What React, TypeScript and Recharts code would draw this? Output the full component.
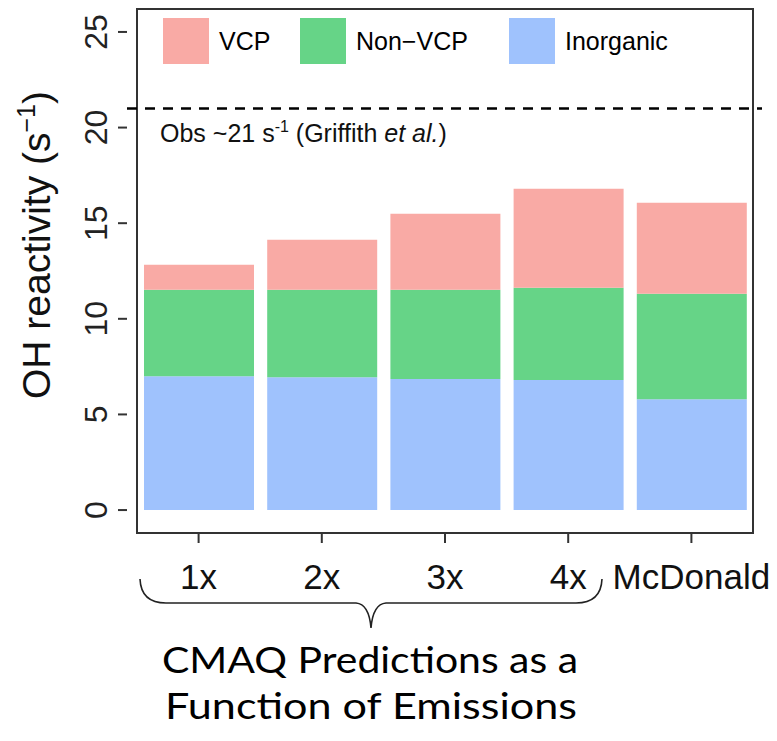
import React from 'react';
import {
  BarChart,
  Bar,
  XAxis,
  YAxis,
  ReferenceLine,
  ReferenceArea,
  Legend,
} from 'recharts';

// OH reactivity split by source, per emission scenario
const categories = ['1x', '2x', '3x', '4x', 'McDonald'];
const inorganic = [7.0, 6.95, 6.85, 6.8, 5.8];
const nonVcp = [4.52, 4.57, 4.67, 4.82, 5.51];
const vcp = [1.31, 2.62, 3.98, 5.18, 4.76];

const yTicks = [0, 5, 10, 15, 20, 25];
const observed = 21;

const seriesNames = ['VCP', 'Non\u2212VCP', 'Inorganic'];
const seriesColors = ['#F9AAA5', '#66D487', '#9FC2FD'];

const data = categories.map((name, i) => ({
  name,
  inorganic: inorganic[i],
  nonVcp: nonVcp[i],
  vcp: vcp[i],
}));

const W = 777;
const H = 741;
const AXIS = '#333333';
const SANS = "'Liberation Sans', Arial, sans-serif";

const legendLeft = [163, 300, 509];

function LegendBox() {
  return (
    <div style={{ position: 'relative', width: 560, height: 46 }}>
      {seriesNames.map((n, i) => (
        <div
          key={n}
          style={{
            position: 'absolute',
            left: legendLeft[i] - legendLeft[0],
            top: 0,
            display: 'flex',
            alignItems: 'center',
            height: 46,
          }}
        >
          <div style={{ width: 46, height: 46, background: seriesColors[i] }} />
          <span
            style={{
              marginLeft: 10,
              fontFamily: SANS,
              fontSize: 25,
              color: '#000',
              whiteSpace: 'nowrap',
            }}
          >
            {n}
          </span>
        </div>
      ))}
    </div>
  );
}

function YTick({ y, payload }: any) {
  return (
    <text
      transform={`translate(95, ${y}) rotate(-90)`}
      y={11.5}
      textAnchor="middle"
      fontFamily={SANS}
      fontSize={32}
      fill="#222"
    >
      {payload.value}
    </text>
  );
}

function XTick({ x, y, payload }: any) {
  return (
    <text
      x={x}
      y={y + 44}
      textAnchor="middle"
      fontFamily={SANS}
      fontSize={35}
      fill="#111"
    >
      {payload.value}
    </text>
  );
}

function ObsLabel({ viewBox }: any) {
  const x = viewBox.x + 33;
  const y = viewBox.y + 34;
  return (
    <text x={x} y={y} fontFamily={SANS} fontSize={25} fill="#111">
      <tspan>Obs ~21 s</tspan>
      <tspan fontSize={16} dy={-10}>-1</tspan>
      <tspan dy={10}> (Griffith </tspan>
      <tspan fontStyle="italic">et al.</tspan>
      <tspan>)</tspan>
    </text>
  );
}

export default function App() {
  return (
    <div style={{ position: 'absolute', left: 0, top: 0, width: W, height: H, background: '#fff' }}>
      <BarChart
        width={W}
        height={H}
        data={data}
        margin={{ top: 9, right: 15, bottom: 148, left: 0 }}
      >
        <XAxis
          dataKey="name"
          padding={{ left: 10, right: 9 }}
          height={60}
          axisLine={false}
          tickSize={10}
          tickLine={{ stroke: AXIS, strokeWidth: 2 }}
          tick={<XTick />}
          interval={0}
        />
        <YAxis
          type="number"
          domain={[-1.2, 26.2]}
          ticks={yTicks}
          allowDataOverflow
          width={127}
          axisLine={false}
          tickSize={9}
          tickLine={{ stroke: AXIS, strokeWidth: 2 }}
          tick={<YTick />}
        />
        <Legend
          layout="vertical"
          align="center"
          verticalAlign="middle"
          wrapperStyle={{ position: 'absolute', top: 18, left: 163, width: 560 }}
          content={() => <LegendBox />}
        />
        <Bar dataKey="inorganic" stackId="oh" fill={seriesColors[2]} barSize={110} isAnimationActive={false} />
        <Bar dataKey="nonVcp" stackId="oh" fill={seriesColors[1]} barSize={110} isAnimationActive={false} />
        <Bar dataKey="vcp" stackId="oh" fill={seriesColors[0]} barSize={110} isAnimationActive={false} />
        <ReferenceLine
          y={observed}
          stroke="#000"
          strokeWidth={2.5}
          strokeDasharray="10 8"
          label={<ObsLabel />}
        />
        <ReferenceArea
          y1={-1.2}
          y2={26.2}
          fill="none"
          stroke={AXIS}
          strokeWidth={2}
          ifOverflow="visible"
        />
      </BarChart>

      <svg
        width={W}
        height={H}
        style={{ position: 'absolute', left: 0, top: 0, pointerEvents: 'none' }}
      >
        <text
          transform="translate(36, 245) rotate(-90)"
          y={14}
          textAnchor="middle"
          fontFamily={SANS}
          fontSize={39}
          fill="#111"
        >
          <tspan>OH reactivity (s</tspan>
          <tspan fontSize={25} dy={-15}>{'\u22121'}</tspan>
          <tspan dy={15}>)</tspan>
        </text>
        <path
          d="M 140 579 Q 141 603 166 603 L 356 603 Q 369 604 371 628 Q 373 604 386 603 L 576 603 Q 601 603 602 579"
          fill="none"
          stroke="#222"
          strokeWidth={1.6}
        />
        <g fontFamily="Lato, 'Open Sans', sans-serif" fontSize={36} fill="#000" textAnchor="middle">
          <text x={370} y={673} textLength={416} lengthAdjust="spacingAndGlyphs">
            CMAQ Predictions as a
          </text>
          <text x={371} y={719} textLength={412} lengthAdjust="spacingAndGlyphs">
            Function of Emissions
          </text>
        </g>
      </svg>
    </div>
  );
}
